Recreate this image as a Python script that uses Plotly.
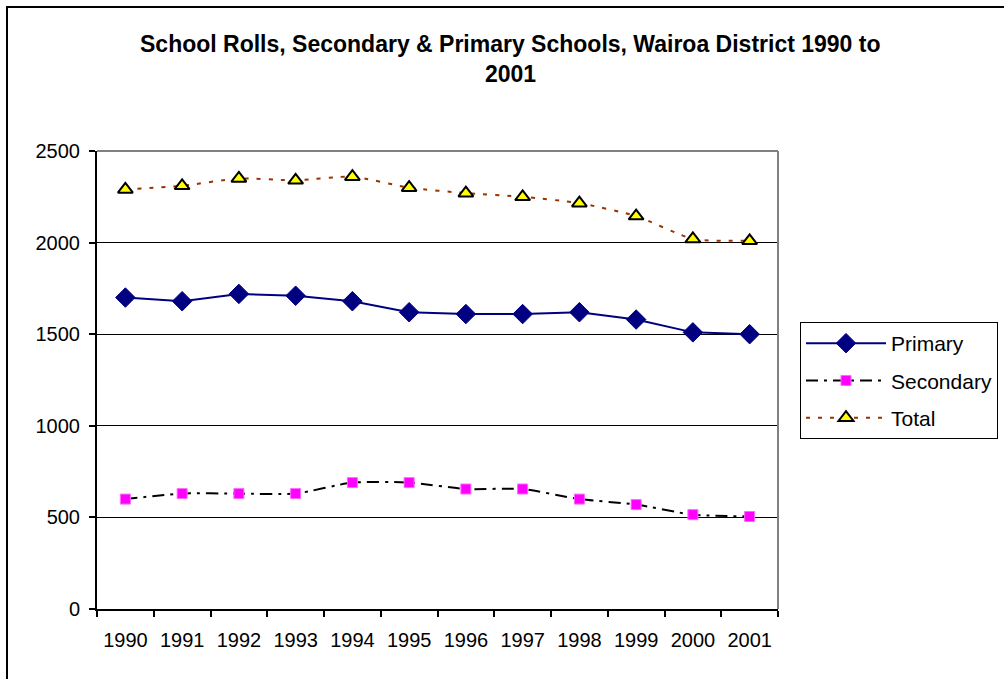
import plotly.graph_objects as go

years = ["1990", "1991", "1992", "1993", "1994", "1995", "1996", "1997", "1998", "1999", "2000", "2001"]
primary = [1700, 1680, 1720, 1710, 1680, 1620, 1610, 1610, 1620, 1580, 1510, 1500]
secondary = [600, 630, 630, 630, 690, 690, 655, 655, 600, 570, 515, 505]
total = [2290, 2310, 2350, 2340, 2360, 2300, 2270, 2250, 2215, 2145, 2020, 2010]
y_ticks = [0, 500, 1000, 1500, 2000, 2500]

W, H = 1004, 679
L, R, T, B = 97, 778, 151, 609

def px(x):
    return (x - L) / (R - L)

def py(y):
    return (B - y) / (B - T)

FONT = "Liberation Sans, Arial, sans-serif"

fig = go.Figure()
fig.add_trace(go.Scatter(
    x=years, y=primary, name="Primary", mode="lines+markers",
    line=dict(color="#000080", width=2),
    marker=dict(symbol="diamond", size=15, color="#000080", line=dict(color="#000080", width=1)),
    legendgroup="a",
))
fig.add_trace(go.Scatter(
    x=years, y=secondary, name="Secondary", mode="lines+markers",
    line=dict(color="#000000", width=2, dash="12px,6px,3px,6px", shape="spline", smoothing=0.6),
    marker=dict(symbol="square", size=10, color="#FF00FF", line=dict(color="#FF66FF", width=1)),
    legendgroup="b",
))
fig.add_trace(go.Scatter(
    x=years, y=total, name="Total", mode="lines+markers",
    line=dict(color="#993300", width=2, dash="4px,8px", shape="spline", smoothing=0.6),
    marker=dict(symbol="triangle-up", size=13, color="#FFFF00", line=dict(color="#000000", width=2)),
    legendgroup="c",
))

fig.update_layout(
    width=W, height=H,
    margin=dict(l=L, r=W - R, t=T, b=H - B, autoexpand=False),
    paper_bgcolor="white", plot_bgcolor="white",
    font=dict(family=FONT, size=20, color="black"),
    showlegend=True,
    legend=dict(
        x=px(800), y=py(322), xanchor="left", yanchor="top",
        bordercolor="black", borderwidth=1, bgcolor="white",
        font=dict(size=21), tracegroupgap=7, itemwidth=80,
    ),
    xaxis=dict(
        type="category", range=[-0.5, 11.5], tickson="boundaries",
        ticks="outside", ticklen=6, tickcolor="black", tickwidth=2,
        showline=True, linecolor="black", linewidth=2, showgrid=False,
        tickfont=dict(size=20), fixedrange=True, ticklabelstandoff=12,
    ),
    yaxis=dict(
        range=[0, 2500], tickvals=y_ticks,
        ticks="outside", ticklen=6, tickcolor="black", tickwidth=2,
        showline=True, linecolor="black", linewidth=2,
        showgrid=True, gridcolor="black", gridwidth=1,
        zeroline=False, tickfont=dict(size=20), ticklabelstandoff=5,
    ),
)

# plot area gray border on top and right
fig.add_shape(type="line", xref="paper", yref="paper", x0=0, x1=1, y0=1, y1=1,
              line=dict(color="#808080", width=2))
fig.add_shape(type="line", xref="paper", yref="paper", x0=1, x1=1, y0=0, y1=1,
              line=dict(color="#808080", width=2))
# outer chart border
fig.add_shape(type="rect", xref="paper", yref="paper",
              x0=px(7), x1=px(1015), y0=py(690), y1=py(7),
              line=dict(color="black", width=2), layer="below")

fig.add_annotation(text="<b>School Rolls, Secondary & Primary Schools, Wairoa District 1990 to</b>",
                   xref="paper", yref="paper", x=px(510), y=py(44), showarrow=False,
                   xanchor="center", yanchor="middle", font=dict(size=23))
fig.add_annotation(text="<b>2001</b>",
                   xref="paper", yref="paper", x=px(510), y=py(74), showarrow=False,
                   xanchor="center", yanchor="middle", font=dict(size=23))

fig.write_html("out.html", config={"displayModeBar": False},
               post_script="document.body.style.margin='0px';")
